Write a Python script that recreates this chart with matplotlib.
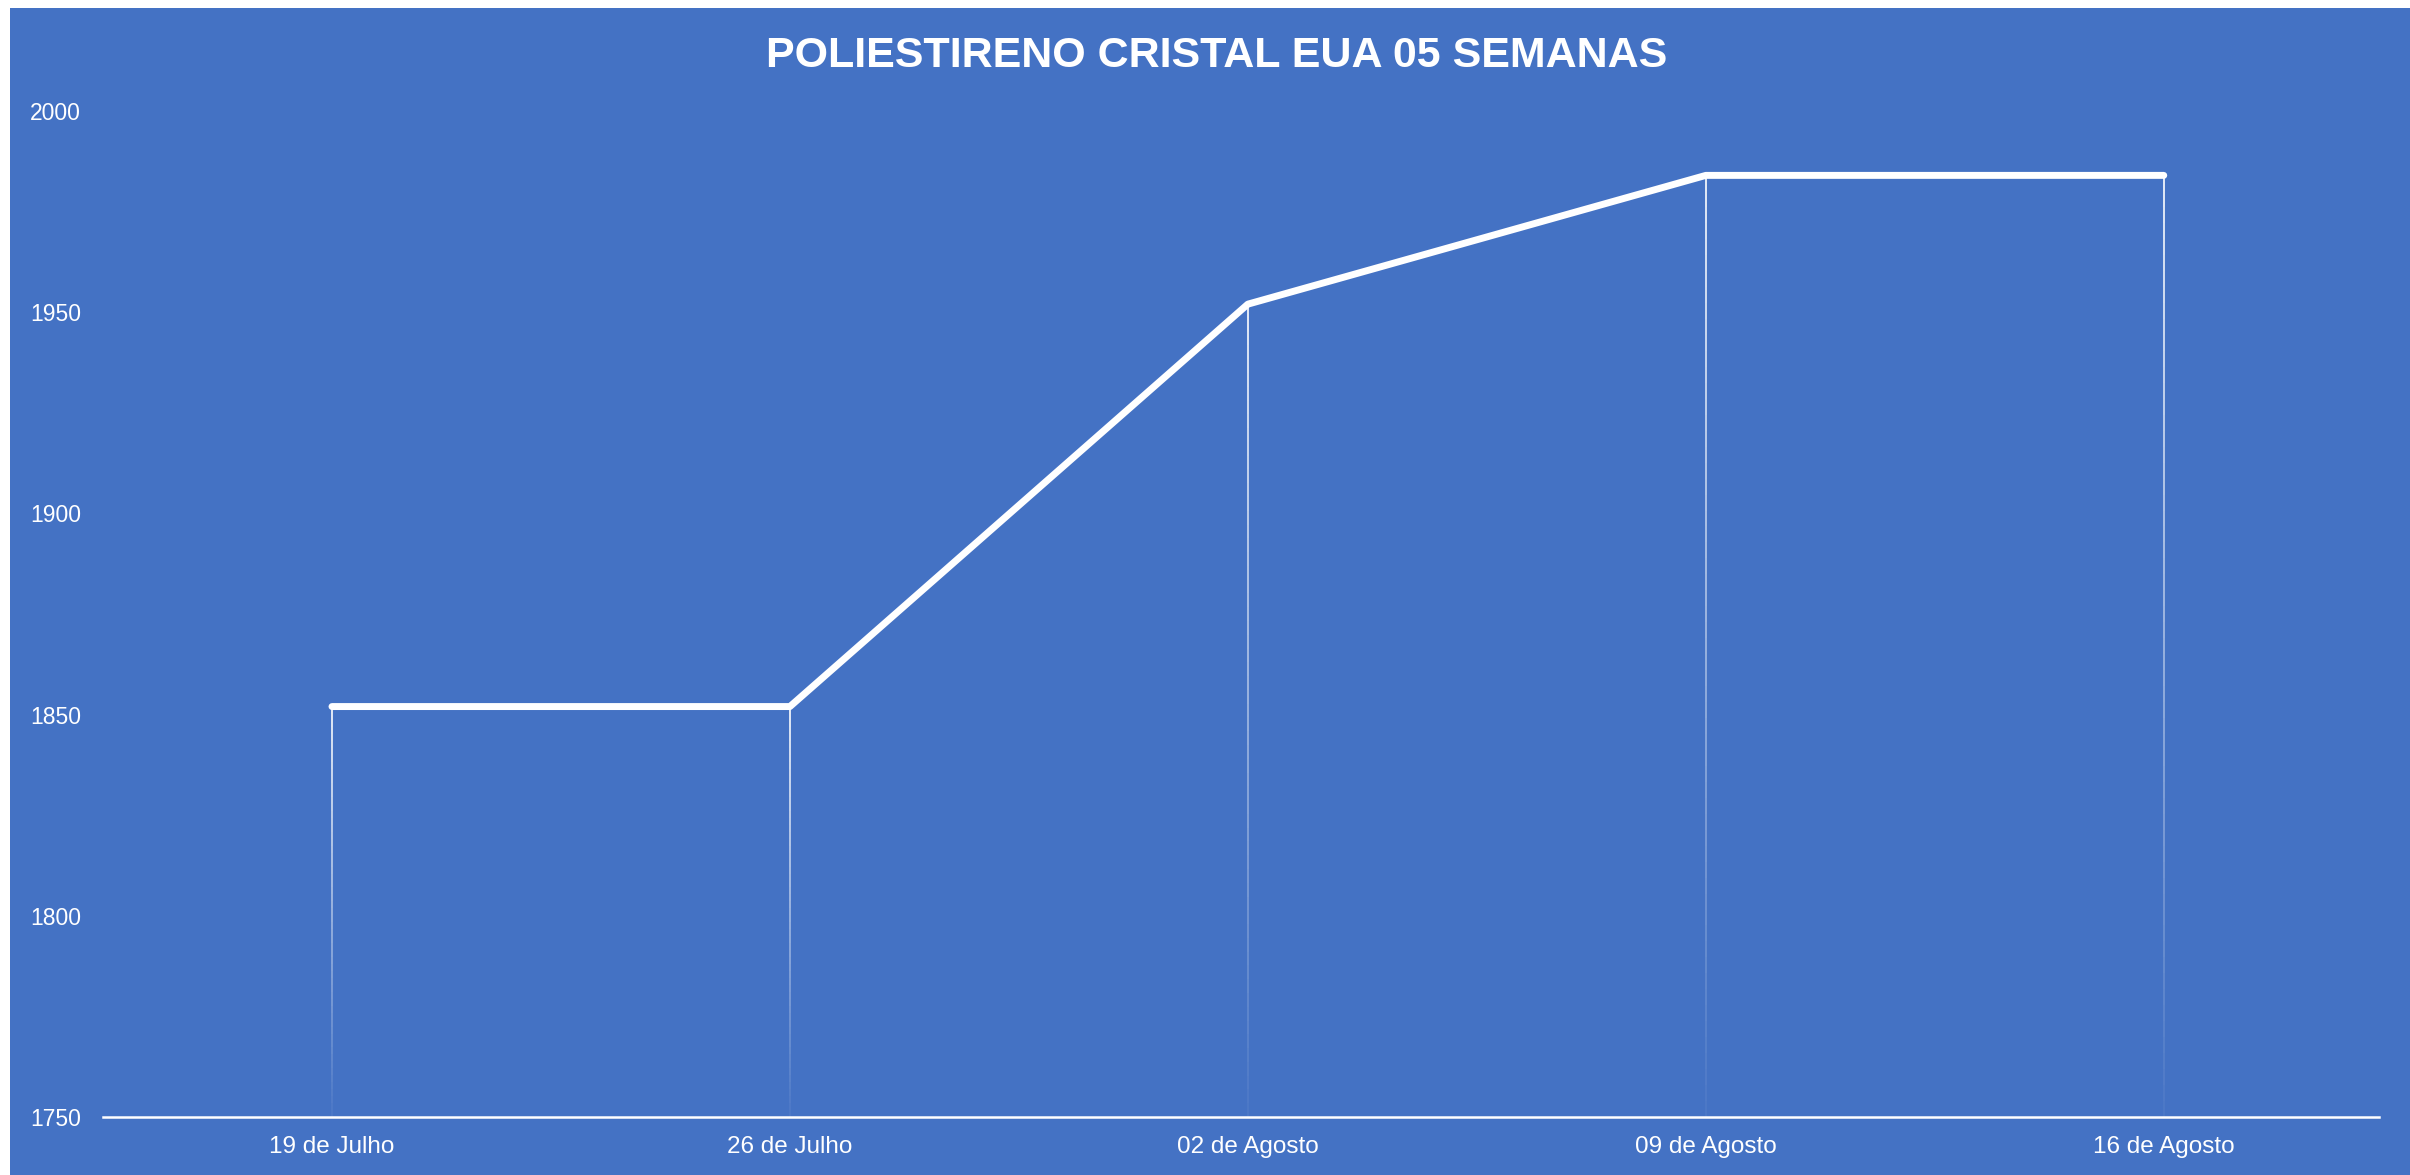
import numpy as np
import matplotlib.pyplot as plt
from matplotlib.collections import LineCollection
from matplotlib.patches import Rectangle

# weekly price, poliestireno cristal EUA
semanas = ['19 de Julho', '26 de Julho', '02 de Agosto', '09 de Agosto', '16 de Agosto']
precos = [1852, 1852, 1952, 1984, 1984]
yticks = [1750, 1800, 1850, 1900, 1950, 2000]

azul = '#4472C4'
plt.rcParams['font.family'] = ['Liberation Sans', 'DejaVu Sans']

fig = plt.figure(figsize=(24.1, 11.75), dpi=100, facecolor='white')
# blue panel with thin white margin on left/top
fig.patches.append(Rectangle((10 / 2410, 0), 1, 1 - 8 / 1175, transform=fig.transFigure,
                             facecolor=azul, edgecolor='none', antialiased=False, zorder=-10))
ax = fig.add_axes([103 / 2410, 1 - 1117 / 1175, (2379 - 103) / 2410, (1117 - 111) / 1175])
ax.set_facecolor('none')

x = np.arange(len(semanas))
ymin = yticks[0]

# drop lines fading towards the axis
for xi, yi in zip(x, precos):
    ys = np.linspace(yi, ymin, 60)
    segs = [[(xi, ys[k]), (xi, ys[k + 1])] for k in range(len(ys) - 1)]
    alphas = np.linspace(1.0, 0.05, len(segs))
    cols = [(1, 1, 1, a) for a in alphas]
    ax.add_collection(LineCollection(segs, colors=cols, linewidths=1.2, zorder=2))

ax.plot(x, precos, color='white', lw=5, solid_capstyle='round', solid_joinstyle='round', zorder=3)

ax.set_xlim(-0.5, 4.47)
ax.set_ylim(ymin, 2000)
ax.set_yticks(yticks)
ax.set_xticks(x)
ax.set_xticklabels(semanas)
for s in ['top', 'right', 'left']:
    ax.spines[s].set_visible(False)
ax.spines['bottom'].set_color('white')
ax.spines['bottom'].set_linewidth(1.8)
ax.tick_params(length=0, colors='white', labelsize=16.5)
ax.tick_params(axis='y', pad=16)
ax.tick_params(axis='x', pad=14)
for lbl in ax.get_xticklabels():
    lbl.set_fontsize(17.5)

fig.text(0.505, 1 - 56 / 1175, 'POLIESTIRENO CRISTAL EUA 05 SEMANAS', color='white',
         fontsize=31, fontweight='bold', ha='center', va='center')

fig.savefig('out.png', dpi=100, facecolor=fig.get_facecolor())
